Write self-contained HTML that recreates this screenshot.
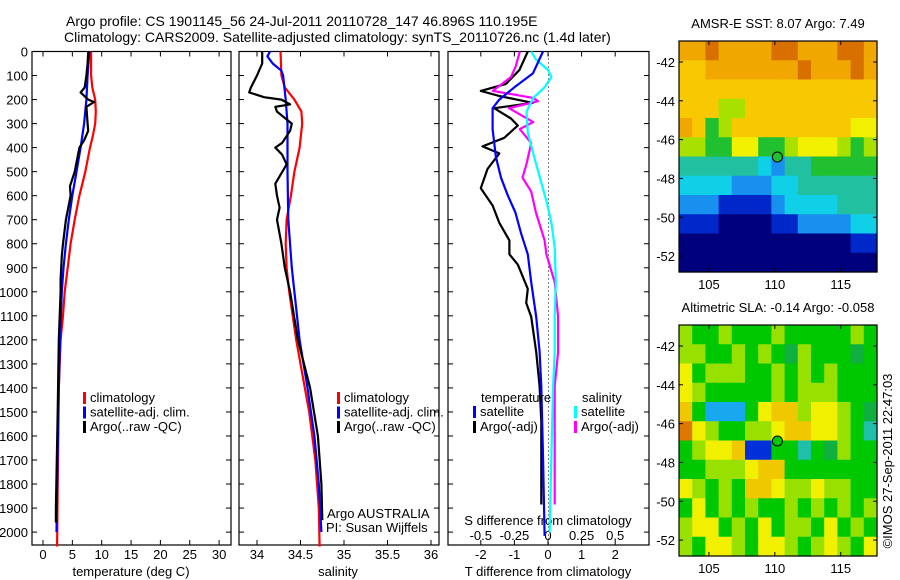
<!DOCTYPE html>
<html><head><meta charset="utf-8"><style>
html,body{margin:0;padding:0;background:#fff;}
svg{display:block;font-family:"Liberation Sans",sans-serif;}
</style></head><body>
<svg id="chart" width="900" height="580" viewBox="0 0 900 580" xmlns="http://www.w3.org/2000/svg">
<text x="66" y="26" font-size="14">Argo profile: CS 1901145_56 24-Jul-2011 20110728_147 46.896S 110.195E</text>
<text x="64" y="42" font-size="14">Climatology: CARS2009. Satellite-adjusted climatology: synTS_20110726.nc (1.4d later)</text>
<g id="g"></g>
</svg>
<script>
// ---- data ----
const depthTicks=[0,100,200,300,400,500,600,700,800,900,1000,1100,1200,1300,1400,1500,1600,1700,1800,1900,2000];
const tempTicks=[0,5,10,15,20,25,30];
const salTicks=[34,34.5,35,35.5,36];
const salTickLabels=["34","34.5","35","35.5","36"];
const dTTicks=[-2,-1,0,1,2];
const dSTicks=[-0.5,-0.25,0,0.25,0.5];
const dSTickLabels=["-0.5","-0.25","0","0.25","0.5"];

const tClimDepth=[0,100,150,200,250,300,350,400,500,600,700,800,900,1000,1100,1200,1400,1600,1800,2060];
const tClim=[8.2,8.2,8.4,8.9,9.0,8.9,8.5,8.0,7.2,6.2,5.4,4.7,4.2,3.7,3.4,3.0,2.7,2.6,2.5,2.4];
const tSatDepth=[0,100,200,300,400,500,600,700,800,900,1000,1200,1500,1800,2000];
const tSat=[7.9,7.6,7.4,7.0,6.4,5.7,5.0,4.4,3.9,3.5,3.2,2.9,2.6,2.4,2.3];
const tArgoDepth=[0,50,100,150,170,200,210,230,300,330,370,400,500,560,600,700,800,850,950,1000,1200,1500,1900,1960];
const tArgo=[7.7,7.6,7.4,7.1,6.4,7.7,8.7,7.4,7.6,7.7,7.0,6.2,5.4,4.6,4.7,3.9,3.4,3.2,3.0,3.0,2.7,2.5,2.2,2.2];

const sClimDepth=[0,100,150,200,250,300,400,500,600,700,800,900,1000,1200,1300,1500,1700,1900,2060];
const sClim=[34.27,34.28,34.32,34.43,34.51,34.52,34.49,34.43,34.39,34.34,34.33,34.34,34.37,34.45,34.5,34.6,34.67,34.71,34.72];
const sSatDepth=[0,20,50,80,100,200,300,500,700,900,1000,1200,1400,1600,1800,2000];
const sSat=[34.15,34.12,34.18,34.28,34.30,34.33,34.35,34.35,34.36,34.40,34.43,34.49,34.58,34.66,34.71,34.74];
const sArgoDepth=[0,50,100,150,170,190,200,220,230,250,300,330,380,400,430,470,550,600,650,700,800,900,1000,1200,1400,1600,1800,1950];
const sArgo=[34.06,34.06,34.0,33.93,33.91,34.08,34.28,34.38,34.21,34.23,34.40,34.38,34.29,34.21,34.29,34.34,34.21,34.23,34.26,34.23,34.28,34.32,34.38,34.47,34.61,34.70,34.74,34.75];

const dTSatDepth=[0,91,149,200,236,323,439,525,598,670,757,844,960,1104,1250,1394,1683,2016];
const dTSat=[-0.15,-0.45,-1.0,-1.45,-1.65,-1.65,-1.55,-1.4,-1.2,-0.97,-0.8,-0.6,-0.5,-0.35,-0.25,-0.2,-0.15,-0.1];
const dTArgoDepth=[0,77,135,164,185,214,236,279,308,359,395,424,489,569,641,713,786,844,887,988,1046,1104,1250,1394,1538,1885];
const dTArgo=[-0.6,-0.85,-1.25,-2.0,-1.45,-0.45,-1.6,-1.1,-0.9,-1.3,-1.95,-1.45,-1.8,-2.0,-1.65,-1.45,-1.15,-1.15,-0.9,-0.6,-0.65,-0.5,-0.35,-0.25,-0.2,-0.2];
const dSSatDepth=[0,33,77,106,149,193,250,337,424,525,627,713,815,960,1104,1250,1394,1683,2001];
const dSSat=[-0.125,-0.09,0,0.025,-0.025,-0.11,-0.16,-0.15,-0.11,-0.06,-0.01,0.025,0.05,0.058,0.05,0.05,0.038,0.025,0.012];
const dSArgoDepth=[0,62,106,164,193,207,236,294,323,381,468,525,583,670,786,844,960,1104,1250,1394,1683,1885];
const dSArgo=[-0.21,-0.24,-0.275,-0.41,-0.11,-0.075,-0.29,-0.11,-0.21,-0.125,-0.16,-0.19,-0.125,-0.09,-0.025,-0.012,0.05,0.075,0.075,0.05,0.05,0.05];

const lonTicks=[105,110,115];
const latTicks=[-42,-44,-46,-48,-50,-52];
const sstGrid=["99A9999AA999AA9","889999999A999A9","888888888888888","888668888888888","985688888888877","665577556777656","444444324455555","333322233444444","222111123333444","111000011222233","000000000000011","000000000000000"];
const slaGrid=["655655565555565","665565654655545","756665565656555","765555565666555","852225788677654","976556678877653","567781155354655","556667885555555","765658876676655","575656556565656","677565756657565","657765776567657"];
const argoLon=110.195, argoLat=-46.896;

// ---- drawing ----
const NS="http://www.w3.org/2000/svg";
const G=document.getElementById('g');
function mk(tag,attrs,parent){const e=document.createElementNS(NS,tag);for(const k in attrs)e.setAttribute(k,attrs[k]);(parent||G).appendChild(e);return e;}
const Y0=51.5,YS=0.2403,YB=545;
const yD=d=>Y0+d*YS;
const panels=[
 {l:32,r:231,x:v=>43+v*5.87},
 {l:239,r:439,x:v=>257+(v-34)*87},
 {l:448,r:649,x:v=>548+v*33.6}
];
const xS=v=>548+v*134.4;
function line(xs,ds,fx,color,name,w){
 const p=mk('polyline',{points:xs.map((v,i)=>fx(v).toFixed(1)+','+yD(ds[i]).toFixed(1)).join(' '),fill:'none',stroke:color,'stroke-width':w||2.2,'stroke-linejoin':'round'});
 
 
}
function txt(x,y,s,opts,name){
 const t=mk('text',Object.assign({x:x,y:y,'font-size':13},opts||{}));t.textContent=s;
 
 
 return t;
}
panels.forEach((P,pi)=>{
 const fr=mk('rect',{x:P.l,y:Y0,width:P.r-P.l,height:YB-Y0,fill:'none',stroke:'#000','stroke-width':1.2});
 
 
 depthTicks.forEach(d=>{
  mk('line',{x1:P.l,x2:P.l+5,y1:yD(d),y2:yD(d),stroke:'#000'});
  mk('line',{x1:P.r-5,x2:P.r,y1:yD(d),y2:yD(d),stroke:'#000'});
 });
});
depthTicks.forEach(d=>txt(28,yD(d)+5,String(d),{'text-anchor':'end'},'depth-tick-label'));
function xticks(P,vals,labels,fx,ly,name){
 vals.forEach((v,i)=>{const x=fx(v);
  mk('line',{x1:x,x2:x,y1:Y0,y2:Y0+5,stroke:'#000'});
  mk('line',{x1:x,x2:x,y1:YB-5,y2:YB,stroke:'#000'});
  if(labels)txt(x,ly,labels[i],{'text-anchor':'middle'},name);
 });
}
xticks(panels[0],tempTicks,tempTicks.map(String),panels[0].x,559,'temperature-tick-label');
xticks(panels[1],salTicks,salTickLabels,panels[1].x,559,'salinity-tick-label');
xticks(panels[2],dTTicks,dTTicks.map(String),panels[2].x,559,'t-diff-tick-label');
dSTicks.forEach((v,i)=>txt(xS(v),540,dSTickLabels[i],{'text-anchor':'middle'},'s-diff-tick-label'));
txt(131,576,'temperature (deg C)',{'text-anchor':'middle'},'temperature-axis-title');
txt(338,576,'salinity',{'text-anchor':'middle'},'salinity-axis-title');
txt(548,576,'T difference from climatology',{'text-anchor':'middle'},'t-diff-axis-title');
txt(548,525,'S difference from climatology',{'text-anchor':'middle'},'s-diff-axis-title');
for(let y=Y0+3;y<YB;y+=4)mk('rect',{x:548,y:y,width:1,height:1,fill:'#000'});

line(tClim,tClimDepth,panels[0].x,'#ff0000','temp-climatology-line');
line(tSat,tSatDepth,panels[0].x,'#0000ff','temp-satellite-line');
line(tArgo,tArgoDepth,panels[0].x,'#000000','temp-argo-line');
line(sClim,sClimDepth,panels[1].x,'#ff0000','sal-climatology-line');
line(sSat,sSatDepth,panels[1].x,'#0000ff','sal-satellite-line');
line(sArgo,sArgoDepth,panels[1].x,'#000000','sal-argo-line');
line(dTArgo,dTArgoDepth,panels[2].x,'#000000','t-diff-argo-line');
line(dSArgo,dSArgoDepth,xS,'#ff00ff','s-diff-argo-line');
line(dSSat,dSSatDepth,xS,'#00ffff','s-diff-satellite-line');
line(dTSat,dTSatDepth,panels[2].x,'#0000ff','t-diff-satellite-line');

function legend(x,y,color,label,name){
 mk('rect',{x:x,y:y-10,width:3,height:12,fill:color});
 txt(x+7,y,label,{},name);
}
[[83,'#ff0000','climatology'],[83,'#0000ff','satellite-adj. clim.'],[83,'#000000','Argo(..raw -QC)']].forEach((e,i)=>legend(e[0],402+i*14.5,e[1],e[2],'legend-entry'));
[[337,'#ff0000','climatology'],[337,'#0000ff','satellite-adj. clim.'],[337,'#000000','Argo(..raw -QC)']].forEach((e,i)=>legend(e[0],402+i*14.5,e[1],e[2],'legend-entry'));
txt(327,518,'Argo AUSTRALIA',{},'argo-australia-label');
txt(326,532,'PI: Susan Wijffels',{},'pi-label');
txt(481,402,'temperature',{},'legend-temperature-header');
legend(473,416,'#0000ff','satellite','legend-entry');
legend(473,431,'#000000','Argo(-adj)','legend-entry');
txt(582,402,'salinity',{},'legend-salinity-header');
legend(574,416,'#00ffff','satellite','legend-entry');
legend(574,431,'#ff00ff','Argo(-adj)','legend-entry');

const sstCols={'0':'#00007c','1':'#0028c8','2':'#1890f0','3':'#10d0e8','4':'#20c0a0','5':'#20c030','6':'#a8e000','7':'#f0f000','8':'#f8c800','9':'#f0a800','A':'#d87000'};
const slaCols={'0':'#00007c','1':'#0030d8','2':'#18a8f0','3':'#20c0a8','4':'#10b040','5':'#00c800','6':'#98e000','7':'#f0f000','8':'#f0c800','9':'#e07800'};
function map(top,bot,grid,cols,title,name,mcolor){
 const L=679,R=877,lonL=102.73,lonR=117.75,latT=-40.92,latB=-52.82;
 const fx=lo=>L+(lo-lonL)/(lonR-lonL)*(R-L);
 const fy=la=>top+(latT-la)/(latT-latB)*(bot-top);
 const g=mk('g',{});
 
 
 const nr=grid.length,nc=grid[0].length,cw=(R-L)/nc,ch=(bot-top)/nr;
 grid.forEach((row,r)=>{for(let c=0;c<nc;c++){
  mk('rect',{x:L+c*cw,y:top+r*ch,width:cw+0.6,height:ch+0.6,fill:cols[row[c]]},g);
 }});
 const fr=mk('rect',{x:L,y:top,width:R-L,height:bot-top,fill:'none',stroke:'#000','stroke-width':1.2});
 
 
 const m=mk('circle',{cx:fx(argoLon),cy:fy(argoLat),r:5,fill:mcolor,stroke:'#000','stroke-width':1});
 
 
 lonTicks.forEach(v=>{const x=fx(v);mk('line',{x1:x,x2:x,y1:top,y2:top+4,stroke:'#000'});mk('line',{x1:x,x2:x,y1:bot-4,y2:bot,stroke:'#000'});txt(x,bot+17,String(v),{'text-anchor':'middle'},'lon-tick-label');});
 latTicks.forEach(v=>{const y=fy(v);mk('line',{x1:L,x2:L+4,y1:y,y2:y,stroke:'#000'});mk('line',{x1:R-4,x2:R,y1:y,y2:y,stroke:'#000'});txt(L-4,y+5,String(v),{'text-anchor':'end'},'lat-tick-label');});
 txt((L+R)/2,top-13,title,{'text-anchor':'middle'},name+'-title');
}
map(41,272,sstGrid,sstCols,'AMSR-E SST: 8.07 Argo: 7.49','sst-map','#20c030');
map(325,556,slaGrid,slaCols,'Altimetric SLA: -0.14 Argo: -0.058','sla-map','#00c800');
txt(0,0,'©IMOS 27-Sep-2011 22:47:03',{'text-anchor':'middle',transform:'translate(892,461) rotate(-90)'},'imos-timestamp');
</script>
</body></html>
